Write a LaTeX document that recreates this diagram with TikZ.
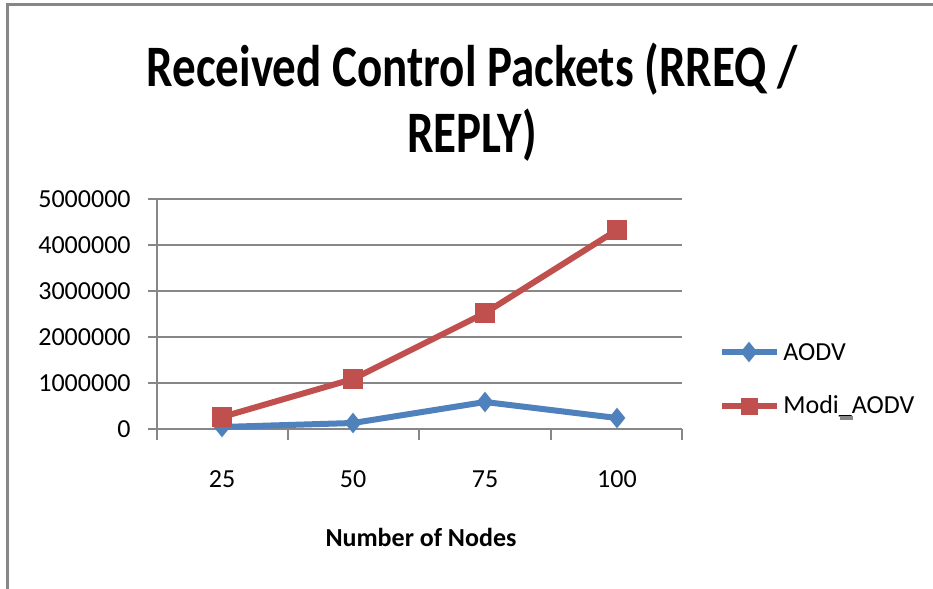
\documentclass[tikz,border=0pt]{standalone}
\usepackage{fontspec}
\setmainfont{Carlito}
\usetikzlibrary{shapes.geometric}
\definecolor{aodvblue}{HTML}{4F81BD}
\definecolor{modired}{HTML}{C0504D}
\definecolor{gridgray}{HTML}{878787}
\tikzset{
  gridline/.style={gridgray, line width=0.9pt},
  ticklabel/.style={font=\fontsize{13}{15}\selectfont, inner sep=0pt},
  titletext/.style={anchor=base, font=\fontsize{23.5}{28}\selectfont\bfseries, inner sep=0pt},
  aodvline/.style={aodvblue, line width=3pt, line join=round},
  modiline/.style={modired, line width=3pt, line join=round},
  aodvmark/.style={diamond, fill=aodvblue, inner sep=0pt, minimum width=8.5pt, minimum height=10.5pt},
  modimark/.style={rectangle, fill=modired, inner sep=0pt, minimum size=10pt},
}
\begin{document}
\begin{tikzpicture}[x=0.5pt, y=-0.5pt]
   \useasboundingbox (0,0) rectangle (933,589);
   \fill[white] (0,0) rectangle (933,589);
   \draw[gridgray, line width=1.5pt] (7.5,589) -- (7.5,4.5) -- (933,4.5);

   % title
   \node[titletext] (title) at (472,86) {\scalebox{1}[1.25]{Received Control Packets (RREQ /}};
   \node[titletext] (title2) at (472,152) {\scalebox{1}[1.25]{REPLY)}};

   % grid and y labels
   \foreach \y/\lab in {429/0, 383/1000000, 337/2000000, 291/3000000, 245/4000000, 199/5000000} {
     \draw[gridline] (148,\y) -- (682,\y);
     \node[ticklabel, anchor=east] (yl\lab) at (131,\y) {\lab};
   }
   \draw[gridline] (157,199) -- (157,440);
   \foreach \x in {288,419,551,682}
   \draw[gridline] (\x,429) -- (\x,440);

   % x labels
   \foreach \x/\lab in {222/25, 353/50, 485/75, 617/100}
   \node[ticklabel, anchor=base] (xl\lab) at (\x,487) {\lab};
   \node[ticklabel, font=\fontsize{13}{15}\selectfont\bfseries, anchor=base] (xtitle) at (421,546) {Number of Nodes};

   % data
   \coordinate (a1) at (222,427);
   \coordinate (a2) at (353,423);
   \coordinate (a3) at (485,402);
   \coordinate (a4) at (617,418);
   \coordinate (m1) at (222,417);
   \coordinate (m2) at (353,379);
   \coordinate (m3) at (485,313);
   \coordinate (m4) at (617,230);

   \draw[aodvline] (a1) -- (a2) -- (a3) -- (a4);
   \foreach \p in {a1,a2,a3,a4}
   \node[aodvmark] (mk\p) at (\p) {};
   \draw[modiline] (m1) -- (m2) -- (m3) -- (m4);
   \foreach \p in {m1,m2,m3,m4}
   \node[modimark] (mk\p) at (\p) {};

   % legend
   \coordinate (la) at (722,352);
   \coordinate (lb) at (777,352);
   \coordinate (lc) at (722,406);
   \coordinate (ld) at (777,406);
   \draw[aodvline] (la) -- (lb);
   \node[aodvmark] (legA) at (749,352) {};
   \node[ticklabel, anchor=west] (textA) at (783,352) {AODV};
   \draw[modiline] (lc) -- (ld);
   \node[modimark, minimum size=8.5pt] (legM) at (749,406) {};
   \node[ticklabel, anchor=west] (textM) at (783,406) {Modi\_AODV};
   \fill[gridgray] (840,416) rectangle (853,420);
\end{tikzpicture}
\end{document}
